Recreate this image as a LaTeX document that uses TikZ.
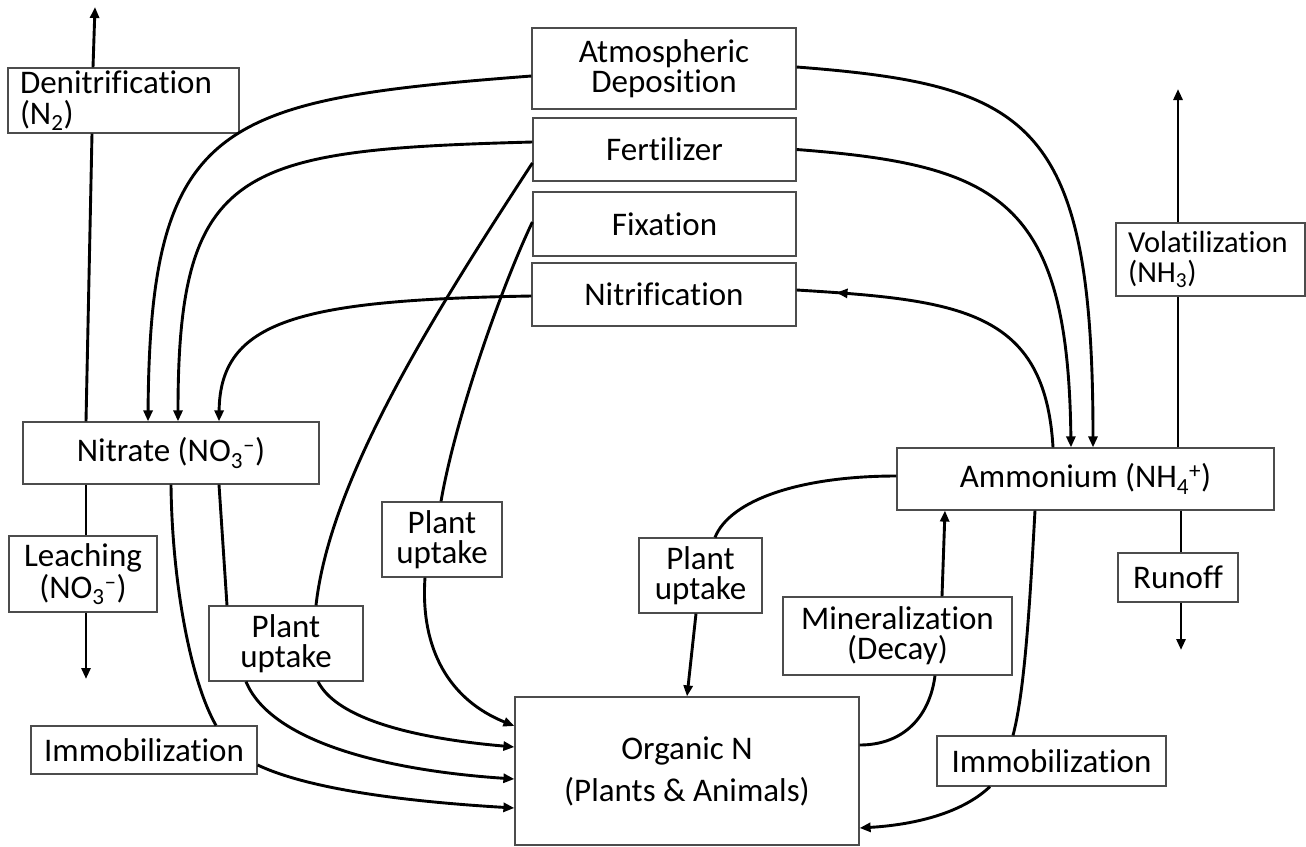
\documentclass[tikz,border=0pt]{standalone}
\usepackage{fontspec}
\setmainfont{Carlito}[Ligatures=NoCommon]
\usetikzlibrary{arrows.meta,decorations.markings,topaths}
\tikzstyle{nbox}=[rectangle, draw=black!70, line width=1.2pt, fill=white, inner sep=0pt, align=center, font=\fontsize{33}{30}\selectfont]
\tikzstyle{lbox}=[nbox, align=left, inner xsep=12pt, font=\fontsize{30.5}{30}\selectfont]
\tikzstyle{link}=[line width=2.9pt]
\tikzstyle{flow}=[link, -{Triangle[length=11pt,width=9pt]}]
\tikzstyle{tomid}=[postaction={decorate},decoration={markings,mark=at position -40pt with {\arrow{Triangle[length=11pt,width=9pt]}}}]

\begin{document}
\begin{tikzpicture}[x=1pt,y=-1pt]
  \useasboundingbox (0,0) rectangle (1306,846);
  % sources
  \node[nbox,minimum width=264,minimum height=81] (atm) at (664,68.5) {Atmospheric\\Deposition};
  \node[nbox,minimum width=263,minimum height=63] (fert) at (664.5,149.5) {Fertilizer};
  \node[nbox,minimum width=263,minimum height=64] (fix) at (664.5,224) {Fixation};
  \node[nbox,minimum width=264,minimum height=63] (nitrif) at (664,294.5) {Nitrification};
  % pools
  \node[nbox,minimum width=296,minimum height=62] (nitrate) at (171,453) {Nitrate (NO\textsubscript{3}\textsuperscript{–})};
  \node[nbox,minimum width=377,minimum height=62] (ammon) at (1085.5,479) {Ammonium (NH\textsubscript{4}\textsuperscript{+})};
  \node[nbox,minimum width=344,minimum height=148] (orgn) at (687,771) {Organic N\\[12pt](Plants \& Animals)};
  % processes
  \node[lbox,text width=207,minimum height=65,font=\fontsize{33}{31}\selectfont] (denit) at (123.5,100.5) {Denitrification\\(N\textsubscript{2})};
  \node[lbox,text width=165,minimum height=73] (volat) at (1210.5,259.5) {Volatilization\\(NH\textsubscript{3})};
  \node[nbox,minimum width=148,minimum height=76,font=\fontsize{33}{32}\selectfont] (leach) at (83,574) {Leaching\\(NO\textsubscript{3}\textsuperscript{–})};
  \node[nbox,minimum width=154,minimum height=75] (uptA) at (286,643.5) {Plant\\uptake};
  \node[nbox,minimum width=120,minimum height=75] (uptB) at (442,539.5) {Plant\\uptake};
  \node[nbox,minimum width=123,minimum height=75] (uptC) at (700.5,575.5) {Plant\\uptake};
  \node[nbox,minimum width=229,minimum height=78] (miner) at (897.5,636) {Mineralization\\(Decay)};
  \node[nbox,minimum width=120,minimum height=49] (runoff) at (1178,577.5) {Runoff};
  \node[nbox,minimum width=226,minimum height=48] (immA) at (144,750) {Immobilization};
  \node[nbox,minimum width=229,minimum height=50] (immB) at (1051.5,761) {Immobilization};

  \coordinate (n2) at (95,7);
  \coordinate (nh3) at (1178,89);
  \coordinate (leachend) at (86,679);
  \coordinate (runend) at (1181,650);

  % losses
  \draw[link] (86,0 |- nitrate.north) -- (92,0 |- denit.south);
  \draw[flow] (93,0 |- denit.north) -- (n2);
  \draw[link] (86,0 |- nitrate.south) -- (86,0 |- leach.north);
  \draw[flow] (86,0 |- leach.south) -- (leachend);
  \draw[link] (1178,0 |- ammon.north) -- (1178,0 |- volat.south);
  \draw[flow] (1178,0 |- volat.north) -- (nh3);
  \draw[link] (1181,0 |- ammon.south) -- (1181,0 |- runoff.north);
  \draw[flow] (1181,0 |- runoff.south) -- (runend);

  % into nitrate
  \draw[flow] ([yshift=-7.5pt]atm.west) .. controls (220,100) and (150,120) .. (148,0 |- nitrate.north);
  \draw[flow] ([yshift=7.5pt]fert.west) .. controls (240,150) and (178,165) .. (178,0 |- nitrate.north);
  \draw[flow] ([yshift=-1.5pt]nitrif.west) .. controls (300,300) and (220,320) .. (219,0 |- nitrate.north);

  % into ammonium
  \draw[flow] ([yshift=1.5pt]atm.east) .. controls (1030,85) and (1093,120) .. (1093,0 |- ammon.north);
  \draw[flow] (fert.east) .. controls (1000,165) and (1068,200) .. (1071,0 |- ammon.north);
  \draw[link,tomid] (1053,0 |- ammon.north) .. controls (1045,310) and (960,300) .. ([yshift=4.5pt]nitrif.east);

  % into organic N
  \draw[link] ([yshift=-13.5pt]fert.west) .. controls (430,320) and (330,480) .. (316,0 |- uptA.north);
  \draw[flow] (318,0 |- uptA.south) .. controls (335,715) and (400,737) .. ([yshift=24pt]orgn.west);
  \draw[link] (219,0 |- nitrate.south) -- (227,0 |- uptA.north);
  \draw[flow] (246,0 |- uptA.south) .. controls (270,740) and (380,770) .. ([yshift=-8pt]orgn.west);
  \draw[link] (171,0 |- nitrate.south) .. controls (172,580) and (190,680) .. (216,0 |- immA.north);
  \draw[flow] ([yshift=-15pt]immA.east) .. controls (300,785) and (380,800) .. ([yshift=-37pt]orgn.west);
  \draw[link] ([yshift=2pt]fix.west) .. controls (500,290) and (455,420) .. (441,0 |- uptB.north);
  \draw[flow] (425,0 |- uptB.south) .. controls (420,650) and (450,700) .. ([yshift=45pt]orgn.west);
  \draw[link] ([yshift=3pt]ammon.west) .. controls (800,476) and (730,500) .. (715,0 |- uptC.north);
  \draw[flow] (696,0 |- uptC.south) -- (687,0 |- orgn.north);

  % mineralization / immobilization
  \draw[link] ([yshift=26pt]orgn.east) .. controls (905,745) and (930,715) .. (935,0 |- miner.south);
  \draw[flow] (942,0 |- miner.north) -- (945,0 |- ammon.south);
  \draw[link] (1035,0 |- ammon.south) .. controls (1030,600) and (1025,690) .. (1013,0 |- immB.north);
  \draw[flow] (990,0 |- immB.south) .. controls (960,815) and (910,825) .. ([yshift=-57pt]orgn.east);
\end{tikzpicture}
\end{document}
